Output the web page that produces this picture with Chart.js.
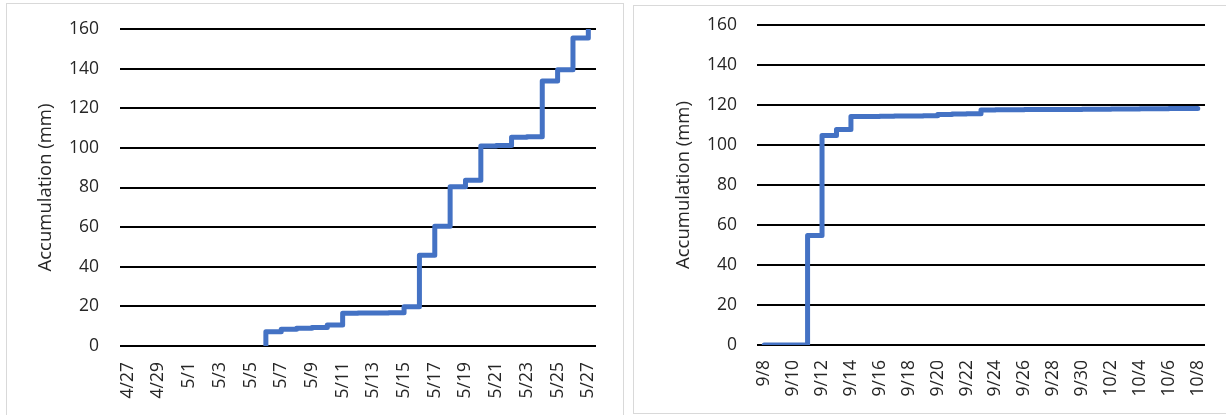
<!DOCTYPE html>
<html>
<head>
<meta charset="utf-8">
<script src="https://cdn.jsdelivr.net/npm/chart.js@4.4.1/dist/chart.umd.min.js"></script>
<style>
  html, body { margin: 0; padding: 0; background: #fff; width: 1226px; height: 415px; overflow: hidden; }
  .panel { position: absolute; border: 1px solid #d9d9d9; background: #fff; box-sizing: border-box; }
  #p1 { left: 6px; top: 3px; width: 618px; height: 420px; }
  #p2 { left: 633px; top: 5px; width: 600px; height: 409px; }
  canvas { position: absolute; left: 0; top: 0; }
</style>
</head>
<body>
<div class="panel" id="p1"><canvas id="c1" width="616" height="418"></canvas></div>
<div class="panel" id="p2"><canvas id="c2" width="598" height="407"></canvas></div>
<script>
// Spring event: daily dates, accumulation at the end of each day (mm)
const springDates = ['4/27','4/28','4/29','4/30','5/1','5/2','5/3','5/4','5/5','5/6','5/7',
  '5/8','5/9','5/10','5/11','5/12','5/13','5/14','5/15','5/16','5/17','5/18','5/19',
  '5/20','5/21','5/22','5/23','5/24','5/25','5/26','5/27'];
const springAccum = [null, null, null, null, null, null, null, null, null, 7.2, 8.4,
  8.9, 9.3, 10.6, 16.5, 16.6, 16.6, 16.8, 19.8, 45.8, 60.5, 80.4, 83.7,
  101.0, 101.2, 105.3, 105.6, 133.8, 139.4, 155.4, 159.6];
const springOpening = 0;   // accumulation when the record starts
const springTicks = ['4/27','4/29','5/1','5/3','5/5','5/7','5/9','5/11','5/13','5/15',
  '5/17','5/19','5/21','5/23','5/25','5/27'];

// Autumn event
const autumnDates = ['9/8','9/9','9/10','9/11','9/12','9/13','9/14','9/15','9/16','9/17',
  '9/18','9/19','9/20','9/21','9/22','9/23','9/24','9/25','9/26','9/27','9/28','9/29',
  '9/30','10/1','10/2','10/3','10/4','10/5','10/6','10/7','10/8'];
const autumnAccum = [0, 0, 0, 54.7, 104.7, 107.8, 114.2, 114.3, 114.4, 114.5, 114.5,
  114.6, 115.2, 115.5, 115.6, 117.5, 117.6, 117.6, 117.7, 117.7, 117.8, 117.8, 117.9,
  117.9, 118.0, 118.0, 118.1, 118.1, 118.2, 118.2, 118.3];
const autumnOpening = 0;
const autumnTicks = ['9/8','9/10','9/12','9/14','9/16','9/18','9/20','9/22','9/24','9/26',
  '9/28','9/30','10/2','10/4','10/6','10/8'];

const yTickValues = [0, 20, 40, 60, 80, 100, 120, 140, 160];
const yTitle = 'Accumulation (mm)';

const FONT = '"Open Sans", "DejaVu Sans", sans-serif';
const TEXT = '#262626';
const LINE = '#4472C4';

// Step series: start at the opening value on the first recorded day,
// then one point per day at the end-of-day total.
function buildPoints(accum, opening) {
  const pts = [];
  accum.forEach((v, i) => {
    if (v === null) return;
    if (!pts.length) pts.push({ x: i, y: opening });
    pts.push({ x: i, y: v });
  });
  return pts;
}

// Let the layout padding alone decide where the plot area sits.
function clearPadding(axis) {
  axis.paddingTop = 0;
  axis.paddingBottom = 0;
  axis.paddingLeft = 0;
  axis.paddingRight = 0;
}

function makeChart(id, dates, accum, opening, tickLabels, geo) {
  const tickPos = tickLabels.map(l => dates.indexOf(l));
  return new Chart(document.getElementById(id), {
    type: 'line',
    data: {
      datasets: [{
        data: buildPoints(accum, opening),
        borderColor: LINE,
        borderWidth: 5,
        borderJoinStyle: 'round',
        borderCapStyle: 'round',
        stepped: true,
        pointRadius: 0,
        tension: 0,
        fill: false
      }]
    },
    options: {
      responsive: false,
      animation: false,
      devicePixelRatio: 1,
      layout: { padding: { top: geo.top, right: geo.right, left: 0, bottom: 0 } },
      plugins: { legend: { display: false }, tooltip: { enabled: false } },
      scales: {
        x: {
          type: 'linear',
          min: -0.5,
          max: dates.length - 0.5,
          afterBuildTicks: axis => { axis.ticks = tickPos.map(v => ({ value: v })); },
          afterFit: axis => { axis.height = geo.xHeight; clearPadding(axis); },
          grid: { display: false, drawTicks: false },
          border: { display: false },
          ticks: {
            autoSkip: false,
            minRotation: 90,
            maxRotation: 90,
            padding: geo.xPad,
            color: TEXT,
            font: { family: FONT, size: 17.5 },
            callback: v => dates[v]
          }
        },
        y: {
          min: 0,
          max: 160,
          afterBuildTicks: axis => { axis.ticks = yTickValues.map(v => ({ value: v })); },
          afterFit: axis => { axis.width = geo.yWidth; clearPadding(axis); },
          grid: { color: '#000', lineWidth: 2, drawTicks: false },
          border: { display: false },
          ticks: {
            padding: geo.yPad,
            color: TEXT,
            font: { family: FONT, size: 17.5 }
          },
          title: {
            display: true,
            text: yTitle,
            color: TEXT,
            font: { family: FONT, size: 18.5 },
            padding: { top: geo.titlePad, bottom: 0 }
          }
        }
      }
    }
  });
}

makeChart('c1', springDates, springAccum, springOpening, springTicks,
  { top: 25, right: 27, xHeight: 76, yWidth: 113, xPad: 16, yPad: 21, titlePad: 28 });
makeChart('c2', autumnDates, autumnAccum, autumnOpening, autumnTicks,
  { top: 19, right: 27, xHeight: 68, yWidth: 123, xPad: 15, yPad: 20, titlePad: 39 });
</script>
</body>
</html>
